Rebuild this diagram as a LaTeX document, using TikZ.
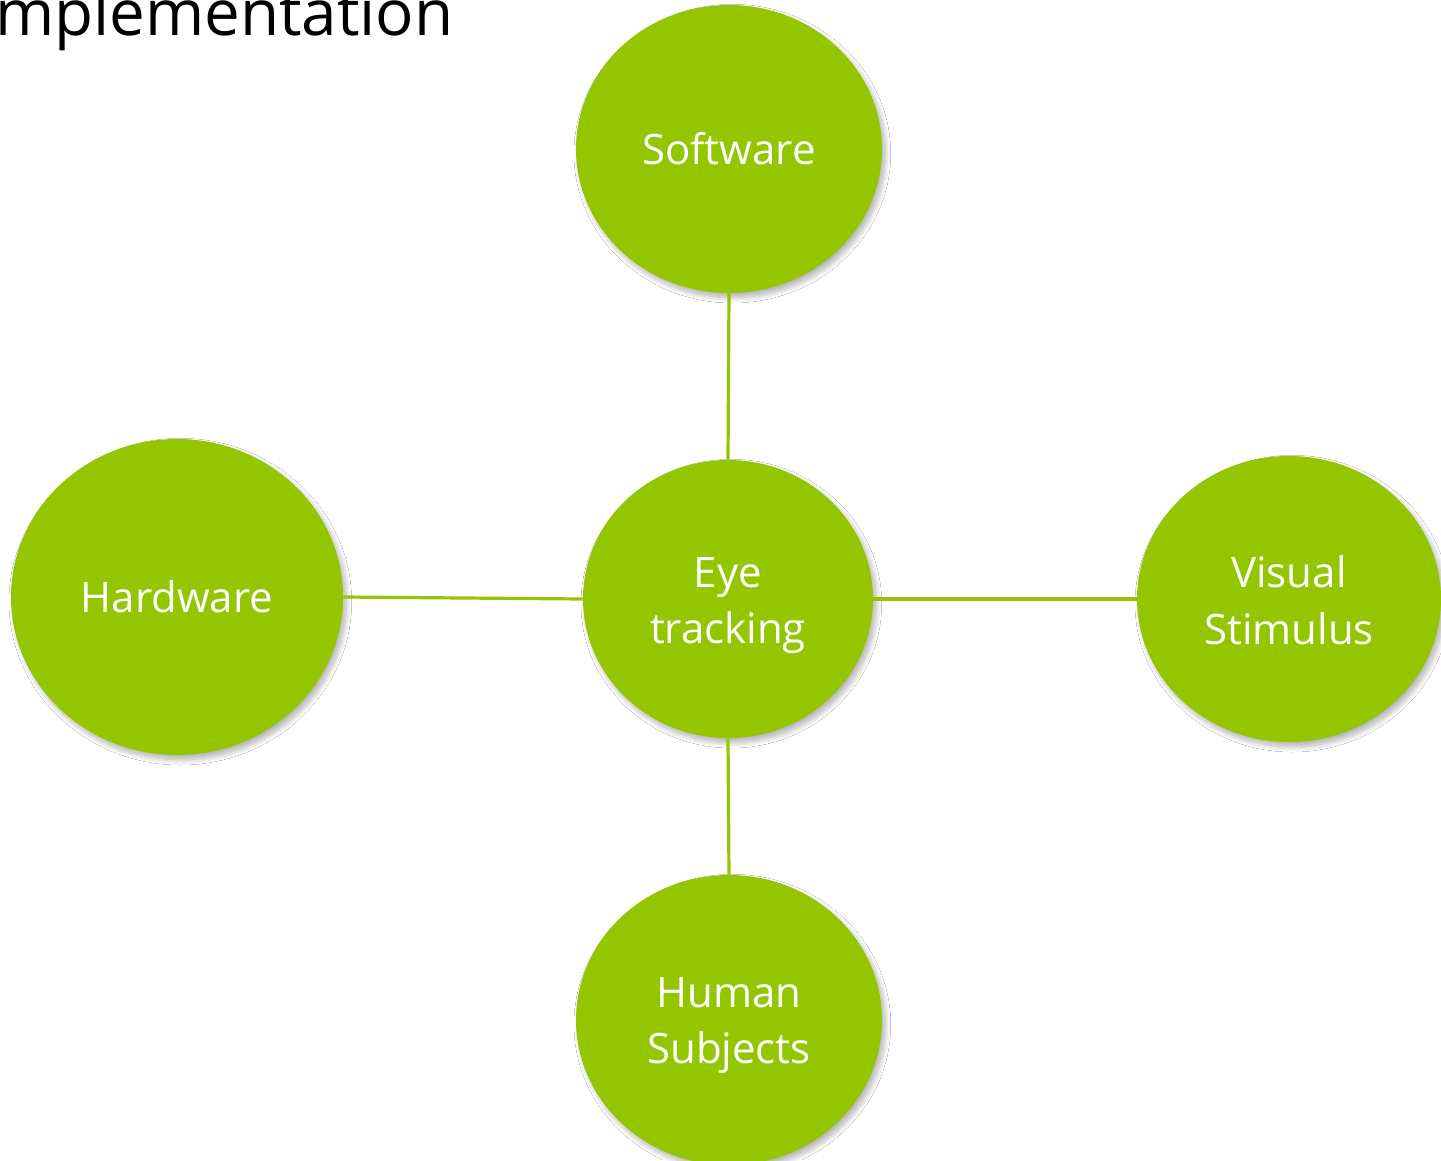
\documentclass[tikz,border=0pt]{standalone}
\usepackage{fontspec}
\setmainfont{Open Sans}
\usetikzlibrary{shapes.geometric,shadows.blur}
\definecolor{leaf}{RGB}{148,198,0}
\tikzset{
  bubble/.style={ellipse, fill=leaf, draw=none, inner sep=0pt,
    blur shadow={shadow xshift=2.5pt, shadow yshift=-3.5pt, shadow blur radius=4pt, shadow blur steps=10, shadow opacity=30}},
  lbl/.style={text=white, font=\fontsize{31.5pt}{42.75pt}\selectfont, inner sep=0pt, anchor=base},
  link/.style={draw=leaf, line width=2.4pt},
  ttl/.style={font=\fontsize{47.8pt}{56pt}\selectfont, inner sep=0pt, anchor=base west, text=black}
}
\begin{document}
\begin{tikzpicture}[x=0.75pt,y=-0.75pt]
\clip (0,0) rectangle (1441,1160);
\fill[white] (0,0) rectangle (1441,1160);
\node[ttl] (title) at (-23,36) {Implementation};

\node[bubble, minimum width=229.5pt, minimum height=216pt] (soft) at (729,149) {};
\node[bubble, minimum width=217.5pt, minimum height=208.5pt] (eye) at (728,599) {};
\node[bubble, minimum width=249pt, minimum height=237pt] (hard) at (177,597) {};
\node[bubble, minimum width=228pt, minimum height=214.5pt] (vis) at (1289,599) {};
\node[bubble, minimum width=229.5pt, minimum height=217.5pt] (hum) at (729,1020) {};

\draw[link] (soft.south) -- (eye.north);
\draw[link] (hard.east) -- (eye.west);
\draw[link] (eye.east) -- (vis.west);
\draw[link] (eye.south) -- (hum.north);

\node[lbl] (tsoft) at (729,164) {Software};
\node[lbl] (thard) at (177,612) {Hardware};
\node[lbl] (teye1) at (728,587) {Eye};
\node[lbl] (teye2) at (728,643) {tracking};
\node[lbl] (tvis1) at (1289,587) {Visual};
\node[lbl] (tvis2) at (1289,644) {Stimulus};
\node[lbl] (thum1) at (729,1007) {Human};
\node[lbl] (thum2) at (729,1063) {Subjects};
\end{tikzpicture}
\end{document}
